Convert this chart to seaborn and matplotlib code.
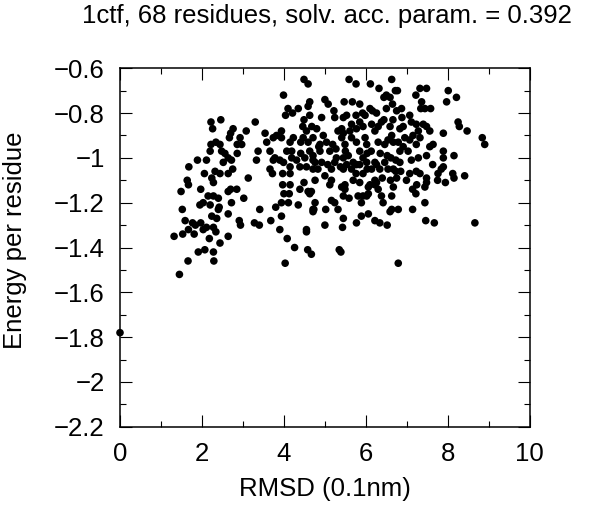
import matplotlib
matplotlib.use("Agg")
import matplotlib.pyplot as plt
import seaborn as sns
from matplotlib.ticker import FuncFormatter

# data
rmsd = [
    2.22, 2.46, 2.26, 2.76, 2.70, 2.67, 2.93, 3.08, 3.30, 2.34,
    2.22, 2.44, 2.86, 2.97, 2.20, 2.48, 2.56, 2.64, 2.86, 2.72,
    2.52, 2.11, 1.89, 1.68, 2.06, 2.32, 2.44, 2.64, 2.75, 2.28,
    2.24, 1.64, 1.67, 1.49, 1.97, 2.64, 2.70, 2.85, 2.15, 2.28,
    2.40, 3.02, 2.03, 2.20, 2.42, 2.72, 1.95, 1.52, 2.40, 2.64,
    2.24, 2.36, 1.59, 1.77, 1.97, 2.91, 2.94, 2.11, 2.28, 1.67,
    1.84, 2.03, 2.34, 1.53, 1.32, 1.81, 2.18, 2.44, 2.64, 1.91,
    2.07, 2.28, 3.28, 3.40, 3.13, 3.41, 3.68, 1.45, 1.66, 2.29,
    3.74, 0.00, 4.03, 4.26, 4.58, 4.67, 5.35, 5.39, 6.79, 4.49,
    4.59, 3.99, 4.63, 4.59, 4.10, 4.35, 4.21, 4.04, 4.49, 4.63,
    4.46, 4.68, 4.55, 3.94, 3.82, 3.74, 3.54, 3.58, 3.66, 3.37,
    3.33, 3.94, 4.15, 4.23, 4.41, 4.59, 4.47, 4.07, 4.19, 4.41,
    4.63, 3.78, 3.90, 3.99, 4.19, 4.31, 4.51, 4.71, 3.66, 3.72,
    3.97, 4.15, 4.15, 4.39, 4.55, 4.71, 3.97, 4.15, 4.49, 4.39,
    4.59, 4.00, 4.13, 3.94, 4.11, 4.35, 4.71, 4.71, 3.80, 3.94,
    3.90, 4.08, 4.55, 4.55, 5.59, 5.76, 6.11, 6.63, 6.32, 7.32,
    7.48, 7.22, 8.01, 8.21, 7.97, 6.72, 6.77, 6.50, 6.44, 6.59,
    6.65, 5.00, 5.08, 5.47, 5.67, 5.85, 7.36, 7.44, 7.58, 7.34,
    6.87, 6.75, 6.50, 6.16, 6.10, 5.92, 6.26, 5.22, 5.24, 5.45,
    5.53, 5.76, 5.98, 7.07, 4.92, 8.25, 8.28, 8.47, 8.84, 8.90,
    7.89, 7.11, 7.23, 7.40, 7.48, 7.56, 7.28, 6.91, 6.83, 6.59,
    6.63, 6.54, 6.67, 6.38, 6.30, 6.22, 6.14, 5.93, 5.77, 5.61,
    5.41, 5.32, 4.80, 4.96, 4.88, 5.04, 4.71, 5.41, 5.49, 5.65,
    5.77, 5.98, 6.02, 6.30, 6.46, 6.79, 6.91, 7.03, 6.83, 7.23,
    7.56, 7.64, 7.48, 7.28, 7.11, 7.89, 7.89, 8.15, 7.89, 7.84,
    7.76, 7.75, 7.94, 8.12, 8.15, 8.41, 7.48, 7.48, 7.63, 7.23,
    7.32, 7.07, 6.99, 7.14, 7.22, 7.44, 6.85, 6.73, 6.54, 6.46,
    6.67, 6.63, 6.42, 6.63, 6.79, 6.59, 7.14, 6.26, 6.30, 6.22,
    6.10, 5.93, 6.06, 5.89, 6.06, 6.22, 6.34, 6.52, 5.89, 5.77,
    5.45, 5.43, 5.00, 5.59, 5.45, 5.24, 5.32, 5.16, 5.02, 4.76,
    4.73, 7.46, 7.67, 8.66, 7.44, 6.38, 6.67, 4.71, 4.76, 4.92,
    5.07, 4.83, 5.00, 5.16, 5.24, 5.45, 5.57, 5.69, 5.85, 6.02,
    6.14, 6.26, 5.65, 5.45, 5.28, 5.12, 4.88, 5.16, 5.12, 4.76,
    5.41, 5.49, 5.69, 5.85, 6.06, 6.22, 6.34, 4.67, 4.85, 5.19,
    5.27, 5.50, 5.85, 6.03, 6.13, 6.35, 6.52, 6.61, 6.73, 6.83,
    6.22, 5.93, 5.77, 5.53, 5.38, 5.93, 6.03, 5.76, 6.40, 6.60,
    6.75, 5.45, 5.65, 5.85, 6.44, 6.66, 6.88, 7.15, 7.32, 7.07,
    6.95, 4.63, 5.49, 5.81, 6.02, 7.24,
]
energy = [
    -0.84, -0.83, -0.87, -0.87, -0.89, -0.91, -0.91, -0.88, -0.84, -0.93,
    -0.94, -0.94, -0.94, -0.94, -0.97, -0.97, -0.98, -1.00, -0.98, -1.01,
    -1.02, -1.01, -1.01, -1.04, -1.07, -1.06, -1.07, -1.07, -1.05, -1.11,
    -1.09, -1.10, -1.12, -1.15, -1.14, -1.15, -1.14, -1.14, -1.17, -1.17,
    -1.18, -1.18, -1.20, -1.21, -1.22, -1.20, -1.21, -1.23, -1.23, -1.25,
    -1.26, -1.27, -1.28, -1.29, -1.29, -1.28, -1.30, -1.31, -1.31, -1.32,
    -1.30, -1.32, -1.33, -1.34, -1.35, -1.34, -1.36, -1.38, -1.35, -1.42,
    -1.41, -1.42, -1.29, -1.30, -1.09, -1.23, -1.28, -1.52, -1.46, -1.46,
    -1.01, -1.78, -1.47, -1.40, -1.41, -1.43, -1.41, -1.42, -1.47, -0.65,
    -0.67, -0.72, -0.75, -0.77, -0.78, -0.78, -0.80, -0.81, -0.83, -0.81,
    -0.86, -0.86, -0.88, -0.88, -0.90, -0.91, -0.89, -0.93, -0.97, -0.97,
    -1.01, -0.91, -0.93, -0.91, -0.93, -0.93, -0.91, -0.97, -0.97, -0.98,
    -0.97, -1.00, -1.01, -1.02, -1.00, -1.01, -1.00, -1.01, -1.05, -1.07,
    -1.07, -1.04, -1.07, -1.04, -1.04, -1.05, -1.12, -1.12, -1.11, -1.14,
    -1.15, -1.16, -1.16, -1.20, -1.20, -1.21, -1.23, -1.24, -1.22, -1.26,
    -1.32, -1.36, -1.32, -1.33, -0.65, -0.67, -0.67, -0.65, -0.69, -0.69,
    -0.69, -0.72, -0.70, -0.73, -0.75, -0.70, -0.70, -0.72, -0.73, -0.73,
    -0.76, -0.74, -0.76, -0.75, -0.75, -0.76, -0.75, -0.78, -0.78, -0.78,
    -0.78, -0.79, -0.78, -0.79, -0.78, -0.80, -0.80, -0.79, -0.82, -0.82,
    -0.81, -0.81, -0.81, -0.81, -0.82, -0.84, -0.86, -0.88, -0.91, -0.94,
    -0.89, -0.84, -0.85, -0.85, -0.86, -0.88, -0.88, -0.86, -0.87, -0.86,
    -0.90, -0.92, -0.93, -0.84, -0.86, -0.88, -0.85, -0.86, -0.87, -0.88,
    -0.87, -0.88, -0.87, -0.90, -0.94, -0.93, -0.91, -0.91, -0.94, -0.91,
    -0.93, -0.91, -0.94, -0.93, -0.94, -0.93, -0.95, -0.97, -0.97, -0.94,
    -0.95, -0.94, -0.99, -1.00, -1.01, -0.97, -1.00, -0.99, -1.04, -1.05,
    -1.07, -1.10, -1.11, -1.07, -1.09, -1.08, -1.09, -1.11, -1.03, -1.06,
    -1.07, -1.07, -1.10, -1.14, -1.16, -1.20, -1.06, -1.06, -1.05, -1.02,
    -1.13, -1.17, -1.20, -1.23, -1.23, -1.24, -1.23, -1.11, -1.14, -1.12,
    -1.12, -1.17, -1.16, -1.20, -1.25, -1.28, -1.29, -1.30, -1.26, -1.29,
    -1.27, -1.31, -1.30, -1.18, -1.17, -1.20, -1.23, -1.19, -1.23, -1.20,
    -1.23, -1.28, -1.29, -1.29, -1.13, -1.17, -1.05, -0.99, -1.02, -1.02,
    -1.03, -1.05, -1.08, -1.05, -1.02, -1.00, -0.99, -1.02, -1.03, -1.02,
    -1.05, -1.03, -1.05, -1.05, -1.00, -0.97, -0.97, -1.10, -1.12, -1.10,
    -1.13, -1.14, -1.10, -1.11, -1.13, -1.10, -1.05, -1.15, -0.95, -0.94,
    -0.96, -0.97, -0.97, -0.98, -0.97, -0.98, -0.99, -1.00, -1.01, -1.02,
    -1.02, -1.00, -1.03, -1.03, -1.04, -1.07, -1.05, -1.07, -1.09, -1.10,
    -1.09, -0.89, -0.85, -0.84, -0.83, -0.83, -0.82, -0.90, -0.91, -0.92,
    -0.91, -1.16, -1.12, -1.17, -1.17, -1.12,
]

x_major = [0, 2, 4, 6, 8, 10]
x_minor = [1, 3, 5, 7, 9]
y_major = [-2.2, -2.0, -1.8, -1.6, -1.4, -1.2, -1.0, -0.8, -0.6]
y_minor = [-2.1, -1.9, -1.7, -1.5, -1.3, -1.1, -0.9, -0.7]

sns.set_style("ticks", {"text.color": "black", "axes.labelcolor": "black",
                        "xtick.color": "black", "ytick.color": "black",
                        "axes.edgecolor": "black"})
plt.rcParams["font.family"] = ["Liberation Sans", "DejaVu Sans"]

fig = plt.figure(figsize=(6, 5.13), dpi=100)
ax = fig.add_axes([0.2, 0.168, 0.683, 0.699])

sns.scatterplot(x=rmsd, y=energy, ax=ax, color="black", s=30,
                edgecolor="none", linewidth=0, clip_on=False)

ax.set_xlim(0, 10)
ax.set_ylim(-2.2, -0.6)
ax.set_xticks(x_major)
ax.set_xticks(x_minor, minor=True)
ax.set_yticks(y_major)
ax.set_yticks(y_minor, minor=True)

fmt = FuncFormatter(lambda v, p: ("%g" % round(v, 2)).replace("-", "\u2212"))
ax.yaxis.set_major_formatter(fmt)
ax.xaxis.set_major_formatter(fmt)

ax.tick_params(which="both", direction="in", top=True, right=True,
               width=0.8, color="black", labelsize=18.5, labelcolor="black")
ax.tick_params(which="major", length=8.5)
ax.tick_params(which="minor", length=4.5)
ax.tick_params(axis="x", which="major", pad=11)
ax.tick_params(axis="y", which="major", pad=11)

for sp in ax.spines.values():
    sp.set_visible(True)
    sp.set_linewidth(1.1)
    sp.set_color("black")

ax.set_xlabel("RMSD (0.1nm)", fontsize=18.5, color="black")
ax.set_ylabel("Energy per residue", fontsize=18.5, color="black")
ax.xaxis.set_label_coords(0.5, -0.14)
ax.yaxis.set_label_coords(-0.228, 0.52)

fig.text(0.545, 1 - 16 / 513, "1ctf, 68 residues, solv. acc. param. = 0.392",
         ha="center", va="center", fontsize=18.5, color="black")

fig.savefig("out.png", dpi=100, facecolor="white")
